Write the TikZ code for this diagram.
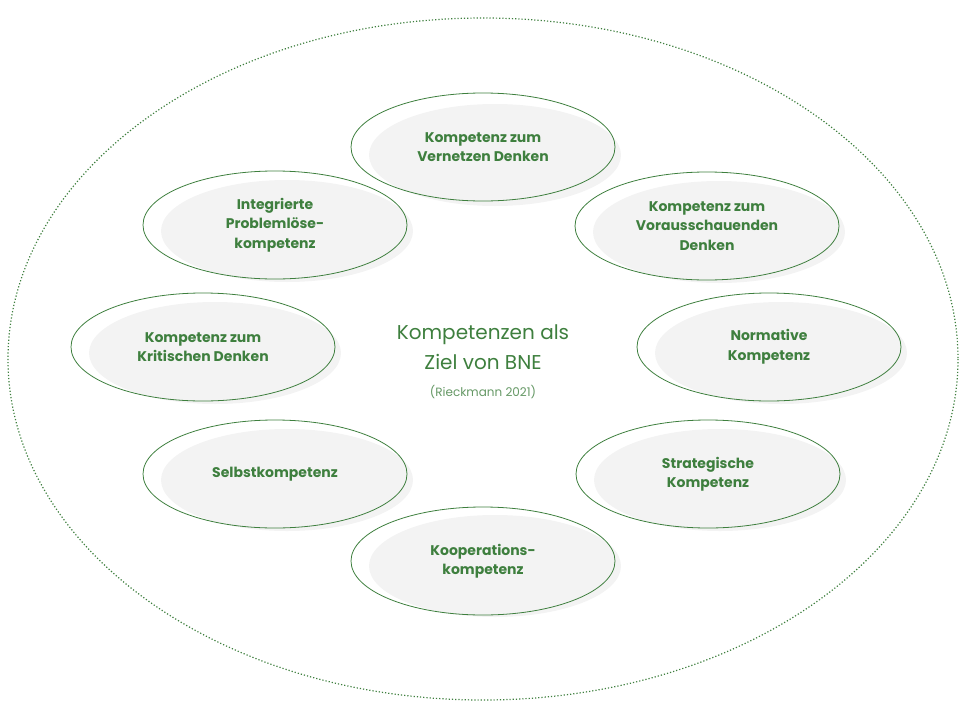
\documentclass[tikz,border=0pt]{standalone}
\usepackage{fontspec}
\usetikzlibrary{shapes.geometric}
\setmainfont{Poppins}
\definecolor{gr}{HTML}{3E7F3E}
\definecolor{sh}{HTML}{F3F3F3}
\begin{document}
\begin{tikzpicture}[x=1pt,y=-1pt,
  k/.style={ellipse,draw=gr,line width=0.8pt,minimum width=264pt,minimum height=108pt,align=center,text=gr,font=\fontsize{14}{19.5}\selectfont\bfseries},
  shd/.style={fill=sh}]
\useasboundingbox (0,0) rectangle (969,720);
\draw[gr,dotted,line width=1.2pt] (483,359) ellipse [x radius=475,y radius=341];
\foreach \x/\y in {483/149,275/225,707/226,203/347,769/347,275/474,708/474,483/560}
  \fill[sh] (\x+12,\y+6) ellipse [x radius=126,y radius=51];
\node[k] (a) at (483,147) {Kompetenz zum\\Vernetzen Denken};
\node[k] (b) at (275,225) {Integrierte\\Problemlöse-\\kompetenz};
\node[k] (c) at (707,226) {Kompetenz zum\\Vorausschauenden\\Denken};
\node[k] (d) at (203,347) {Kompetenz zum\\Kritischen Denken};
\node[k] (e) at (769,347) {Normative\\Kompetenz};
\node[k] (f) at (275,474) {Selbstkompetenz};
\node[k] (g) at (708,474) {Strategische\\Kompetenz};
\node[k] (h) at (483,561) {Kooperations-\\kompetenz};
\node[align=center,text=gr,font=\fontsize{20}{30}\selectfont] (t) at (483,347) {Kompetenzen als\\Ziel von BNE};
\node[text=gr!80,font=\fontsize{12}{14}\selectfont] (r) at (483,392) {(Rieckmann 2021)};
\end{tikzpicture}
\end{document}
